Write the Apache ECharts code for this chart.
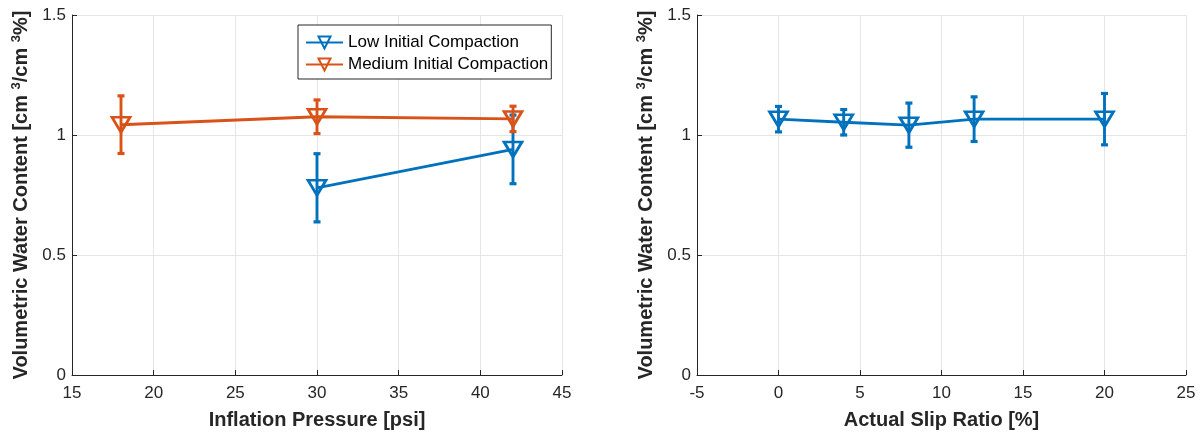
<!DOCTYPE html>
<html>
<head>
<meta charset="utf-8">
<script src="https://cdn.jsdelivr.net/npm/echarts@6/dist/echarts.min.js"></script>
<style>
  html, body { margin: 0; padding: 0; background: #ffffff; }
  #chart { width: 1202px; height: 435px; }
</style>
</head>
<body>
<div id="chart"></div>
<script>
// Left panel: water content vs. inflation pressure
const pressureLow = [30, 42];
const waterLowMean = [0.78, 0.94];
const waterLowErr = [0.142, 0.143];

const pressureMed = [18, 30, 42];
const waterMedMean = [1.043, 1.076, 1.067];
const waterMedErr = [0.12, 0.07, 0.053];

// Right panel: water content vs. actual slip ratio
const slipRatio = [0, 4, 8, 12, 20];
const waterSlipMean = [1.066, 1.053, 1.041, 1.066, 1.066];
const waterSlipErr = [0.053, 0.053, 0.092, 0.093, 0.107];

const seriesNames = ['Low Initial Compaction', 'Medium Initial Compaction'];

const BLUE = '#0072BD';
const ORANGE = '#D95319';
const AXIS = '#262626';
const GRID = '#e5e5e5';
const FONT = '"Liberation Sans", Arial, Helvetica, sans-serif';

function points(xs, ys) {
  return xs.map((x, i) => [x, ys[i]]);
}
function bars(xs, mean, err) {
  return xs.map((x, i) => [x, mean[i] - err[i], mean[i] + err[i]]);
}

// Vertical error bars with short caps, drawn through the axis scales
function errorSeries(xi, data, color, z) {
  return {
    type: 'custom',
    xAxisIndex: xi, yAxisIndex: xi,
    z: z,
    silent: true,
    data: data,
    renderItem: function (params, api) {
      const x = api.value(0);
      const top = api.coord([x, api.value(2)]);
      const bot = api.coord([x, api.value(1)]);
      const cap = 3.5;
      const stem = { stroke: color, lineWidth: 2.9, fill: null };
      const capStyle = { stroke: color, lineWidth: 3.2, fill: null };
      return {
        type: 'group',
        children: [
          { type: 'line', shape: { x1: top[0], y1: top[1], x2: bot[0], y2: bot[1] }, style: stem },
          { type: 'line', shape: { x1: top[0] - cap, y1: top[1], x2: top[0] + cap, y2: top[1] }, style: capStyle },
          { type: 'line', shape: { x1: bot[0] - cap, y1: bot[1], x2: bot[0] + cap, y2: bot[1] }, style: capStyle }
        ]
      };
    }
  };
}

function lineSeries(name, xi, data, color, z) {
  return {
    name: name,
    type: 'line',
    xAxisIndex: xi, yAxisIndex: xi,
    z: z,
    data: data,
    symbol: 'triangle',
    symbolRotate: 180,
    symbolSize: [18, 15],
    lineStyle: { color: color, width: 2.9 },
    itemStyle: { color: 'rgba(255,255,255,0)', borderColor: color, borderWidth: 2.7 },
    emphasis: { disabled: true },
    animation: false
  };
}

function xAxisCfg(gi, min, max, name) {
  return {
    type: 'value', gridIndex: gi, min: min, max: max, interval: 5,
    name: name, nameLocation: 'middle', nameGap: 35,
    nameTextStyle: { fontFamily: FONT, fontSize: 20, fontWeight: 'bold', color: AXIS },
    axisLine: { onZero: false, lineStyle: { color: AXIS, width: 1 } },
    axisTick: { inside: true, length: 5, lineStyle: { color: AXIS } },
    axisLabel: { fontFamily: FONT, fontSize: 17, color: AXIS, margin: 10 },
    splitLine: { show: true, lineStyle: { color: GRID, width: 1 } }
  };
}

const yName = '{b|Volumetric Water Content [cm }{s|3}{b|/cm }{s|3}{b|%]}';
function yAxisCfg(gi) {
  return {
    type: 'value', gridIndex: gi, min: 0, max: 1.5, interval: 0.5,
    name: yName, nameLocation: 'middle', nameGap: 40, nameRotate: 90,
    nameTextStyle: {
      rich: {
        b: { fontFamily: FONT, fontSize: 20, fontWeight: 'bold', color: AXIS, lineHeight: 22 },
        s: { fontFamily: FONT, fontSize: 13, fontWeight: 'bold', color: AXIS, verticalAlign: 'top', lineHeight: 22, padding: [0, 0, 7, 0] }
      }
    },
    axisLine: { show: true, onZero: false, lineStyle: { color: AXIS, width: 1 } },
    axisTick: { inside: true, length: 5, lineStyle: { color: AXIS } },
    axisLabel: { fontFamily: FONT, fontSize: 17, color: AXIS, margin: 6 },
    splitLine: { show: true, lineStyle: { color: GRID, width: 1 } }
  };
}

const chart = echarts.init(document.getElementById('chart'), null, { renderer: 'canvas' });
chart.setOption({
  backgroundColor: '#ffffff',
  animation: false,
  grid: [
    { left: 72, top: 15, width: 490, height: 360, containLabel: false },
    { left: 697, top: 15, width: 489, height: 360, containLabel: false }
  ],
  xAxis: [
    xAxisCfg(0, 15, 45, 'Inflation Pressure [psi]'),
    xAxisCfg(1, -5, 25, 'Actual Slip Ratio [%]')
  ],
  yAxis: [yAxisCfg(0), yAxisCfg(1)],
  legend: {
    data: seriesNames,
    orient: 'vertical',
    left: 298, top: 25,
    padding: [9, 3, 6, 7],
    itemGap: 5,
    itemWidth: 37, itemHeight: 15,
    backgroundColor: '#ffffff',
    borderColor: AXIS, borderWidth: 1,
    textStyle: { fontFamily: FONT, fontSize: 17, color: '#000000' },
    selectedMode: false
  },
  series: [
    errorSeries(0, bars(pressureLow, waterLowMean, waterLowErr), BLUE, 2),
    lineSeries(seriesNames[0], 0, points(pressureLow, waterLowMean), BLUE, 3),
    errorSeries(0, bars(pressureMed, waterMedMean, waterMedErr), ORANGE, 4),
    lineSeries(seriesNames[1], 0, points(pressureMed, waterMedMean), ORANGE, 5),
    errorSeries(1, bars(slipRatio, waterSlipMean, waterSlipErr), BLUE, 2),
    lineSeries('slip', 1, points(slipRatio, waterSlipMean), BLUE, 3)
  ]
});
</script>
</body>
</html>
